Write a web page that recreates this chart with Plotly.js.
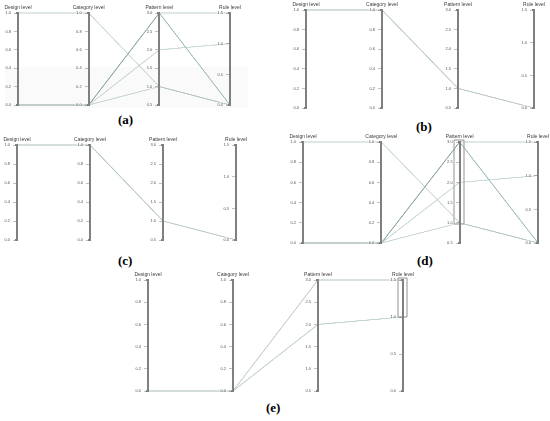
<!DOCTYPE html>
<html>
<head>
<meta charset="utf-8">
<script src="https://cdn.plot.ly/plotly-3.0.1.min.js"></script>
<style>
  html, body { margin: 0; padding: 0; background: #fff; }
  #stage { position: relative; width: 550px; height: 421px; overflow: hidden; }
  #stage > div { position: absolute; }
  path.domain { stroke: #808080 !important; stroke-opacity: 1 !important; stroke-width: 1.7px !important; }
  text.axis-title { transform: translate(0px, -2px) !important; }
</style>
</head>
<body>
<div id="stage">
  <div id="back" style="left:0;top:0;width:550px;height:421px"></div>
</div>
<script>
// Values, one set of arrays per panel
// (a)
const designA   = [1, 0, 0, 0, 0];
const categoryA = [1, 0, 0, 0, 0];
const patternA  = [1, 3, 3, 2, 1];
const ruleA     = [0, 1.5, 0, 1, 0];
const shadeA    = [0, 0, 1, 0, 0];
// (b)
const designB   = [1];
const categoryB = [1];
const patternB  = [1];
const ruleB     = [0];
const shadeB    = [0];
// (c)
const designC   = [1];
const categoryC = [1];
const patternC  = [1];
const ruleC     = [0];
const shadeC    = [0];
// (d)
const designD   = [1, 0, 0, 0, 0];
const categoryD = [1, 0, 0, 0, 0];
const patternD  = [1, 3, 3, 2, 1];
const ruleD     = [0, 1.5, 0, 1, 0];
const shadeD    = [0, 0, 1, 0, 0];
// (e)
const designE   = [0, 0];
const categoryE = [0, 0];
const patternE  = [3, 2];
const ruleE     = [1.5, 1];
const shadeE    = [0, 0];

const dimNames = ['Design level', 'Category level', 'Pattern level', 'Rule level'];
const unitTicks = [0, 0.2, 0.4, 0.6, 0.8, 1.0];
const patternTicks = [0.5, 1.0, 1.5, 2.0, 2.5, 3.0];
const ruleTicks = [0, 0.5, 1.0, 1.5];
const panelLabels = ['(a)', '(b)', '(c)', '(d)', '(e)'];

const W = 550, H = 421;
const ML = 16, MR = 16, MT = 14, MB = 4;

// pixel box of each panel: first axis x, last axis x, top y, bottom y
const boxes = [
    [18, 230, 11, 107],
    [306, 534, 8, 110],
    [17, 236, 143, 242],
    [303, 538, 140, 245],
    [148, 403, 278, 393]
];

function drawPanel(i, design, category, pattern, rule, shade) {
    let b = boxes[i];
    let div = document.createElement('div');
    div.id = 'panel' + i;
    div.style.left = (b[0] - ML) + 'px';
    div.style.top = (b[2] - MT) + 'px';
    let w = b[1] - b[0] + ML + MR;
    let h = b[3] - b[2] + MT + MB;
    div.style.width = w + 'px';
    div.style.height = h + 'px';
    document.getElementById('stage').appendChild(div);

    let trace = {
        type: 'parcoords',
        labelside: 'top',
        line: {
            color: shade,
            cmin: 0,
            cmax: 1,
            colorscale: [[0, '#bddbda'], [1, '#78a9aa']],
            showscale: false
        },
        labelfont: { size: 5, color: '#3a3a3a', family: 'Liberation Sans' },
        tickfont: { size: 4, color: '#555', family: 'Liberation Sans' },
        rangefont: { size: 1, color: 'rgba(0,0,0,0)' },
        dimensions: [
            { label: dimNames[0], values: design, range: [0, 1], tickvals: unitTicks, tickformat: '.1f' },
            { label: dimNames[1], values: category, range: [0, 1], tickvals: unitTicks, tickformat: '.1f' },
            { label: dimNames[2], values: pattern, range: [0.5, 3], tickvals: patternTicks, tickformat: '.1f' },
            { label: dimNames[3], values: rule, range: [0, 1.5], tickvals: ruleTicks, tickformat: '.1f' }
        ]
    };
    let layout = {
        width: w,
        height: h,
        margin: { l: ML, r: MR, t: MT, b: MB },
        paper_bgcolor: 'rgba(0,0,0,0)',
        plot_bgcolor: 'rgba(0,0,0,0)'
    };
    Plotly.newPlot(div, [trace], layout, { staticPlot: true });
}

// Background: panel letters, faint band in (a), brush boxes in (d) and (e)
const labelPos = [[125, 119], [424, 126], [125, 260], [425, 260], [273, 407]];
let annotations = panelLabels.map((t, i) => ({
    text: '<b>' + t + '</b>',
    xref: 'paper', yref: 'paper',
    x: labelPos[i][0] / W, y: 1 - labelPos[i][1] / H,
    xanchor: 'center', yanchor: 'middle',
    showarrow: false,
    font: { family: 'Liberation Serif', size: 13, color: '#000' }
}));
function rectPx(x0, x1, y0, y1, fill, line) {
    return {
        type: 'rect', xref: 'paper', yref: 'paper',
        x0: x0 / W, x1: x1 / W, y0: 1 - y1 / H, y1: 1 - y0 / H,
        fillcolor: fill, line: line, layer: 'below'
    };
}
let backLayout = {
    width: W,
    height: H,
    margin: { l: 0, r: 0, t: 0, b: 0 },
    paper_bgcolor: '#fff',
    xaxis: { visible: false },
    yaxis: { visible: false },
    annotations: annotations,
    shapes: [
        rectPx(5, 248, 67, 108, 'rgba(0,0,0,0.02)', { width: 0 }),
        rectPx(454, 464, 140, 224, 'rgba(0,0,0,0)', { width: 0.8, color: '#777' }),
        rectPx(398, 407, 278, 317, 'rgba(0,0,0,0)', { width: 0.8, color: '#777' })
    ]
};
Plotly.newPlot('back', [], backLayout, { staticPlot: true });

drawPanel(0, designA, categoryA, patternA, ruleA, shadeA);
drawPanel(1, designB, categoryB, patternB, ruleB, shadeB);
drawPanel(2, designC, categoryC, patternC, ruleC, shadeC);
drawPanel(3, designD, categoryD, patternD, ruleD, shadeD);
drawPanel(4, designE, categoryE, patternE, ruleE, shadeE);
</script>
</body>
</html>
